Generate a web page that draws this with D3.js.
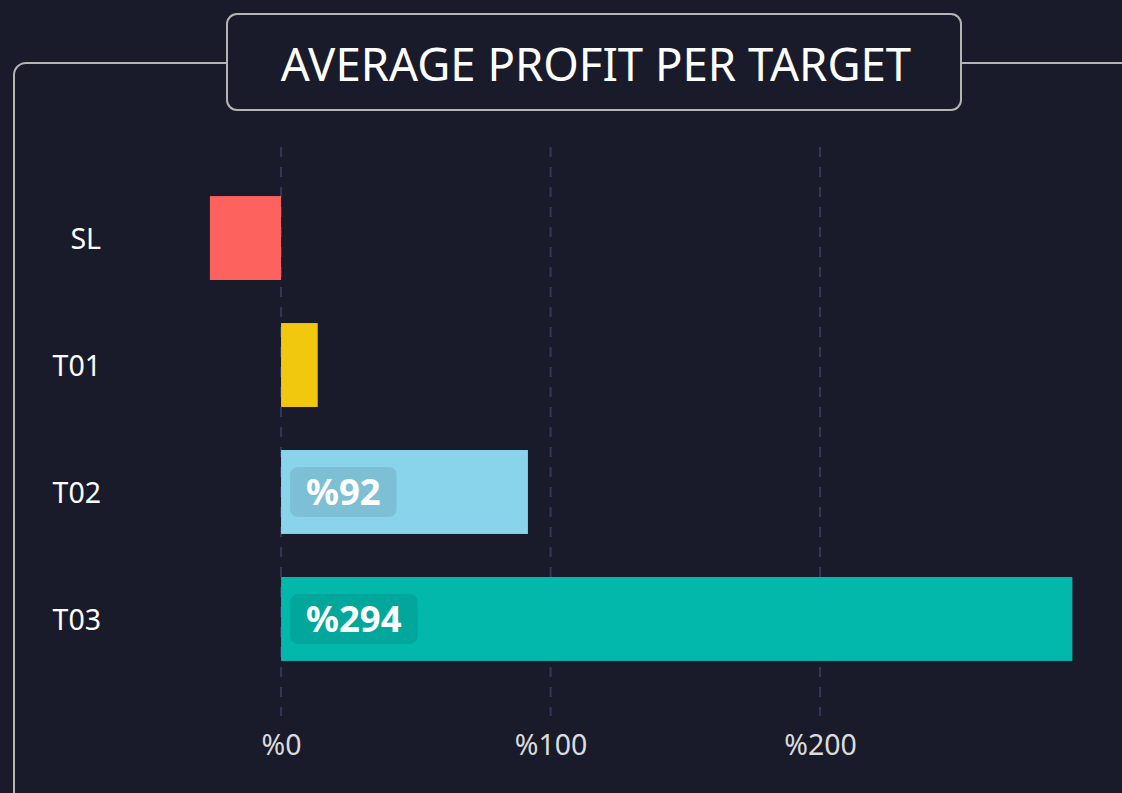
<!DOCTYPE html>
<html>
<head>
<meta charset="utf-8">
<script src="https://cdn.jsdelivr.net/npm/d3@7"></script>
<style>
  html, body { margin: 0; padding: 0; background: #191b2a; overflow: hidden; }
  svg { display: block; }
</style>
</head>
<body>
<div id="chart"></div>
<script>
// data
const categories = ["SL", "T01", "T02", "T03"];
const profits = [-26.4, 13.6, 91.6, 293.6];
const barColors = ["#fd625e", "#f2c80f", "#8ad4eb", "#01b8aa"];
const tickValues = [0, 100, 200];
const labelMin = 50; // only bars wide enough get a value badge
const title = "AVERAGE PROFIT PER TARGET";

const width = 1122, height = 793;
const font = "'Segoe UI', 'Noto Sans', 'Open Sans', sans-serif";

const svg = d3.select('#chart').append('svg')
	.attr('width', width)
	.attr('height', height);

// outer panel, runs off the right and bottom edges
svg.append('rect')
	.attr('x', 14).attr('y', 63)
	.attr('width', 1140).attr('height', 760)
	.attr('rx', 12)
	.attr('fill', 'none')
	.attr('stroke', '#b4b4b4')
	.attr('stroke-width', 2);

// title box
svg.append('rect')
	.attr('x', 227).attr('y', 14)
	.attr('width', 734).attr('height', 96)
	.attr('rx', 10)
	.attr('fill', '#191b2a')
	.attr('stroke', '#b4b4b4')
	.attr('stroke-width', 2);

svg.append('text')
	.attr('x', 596).attr('y', 81)
	.attr('text-anchor', 'middle')
	.style('font-family', font)
	.style('font-size', '45.5px')
	.style('fill', '#ffffff')
	.text(title);

// scales
const x = d3.scaleLinear()
	.domain([-30, 300])
	.range([200.2, 1089.6]);

const y = d3.scaleBand()
	.domain(categories)
	.range([174.5, 682.5])
	.paddingInner(0.339)
	.paddingOuter(0.17);

// dashed gridlines
svg.append('g')
	.selectAll('line')
	.data(tickValues)
	.join('line')
	.attr('x1', d => x(d)).attr('x2', d => x(d))
	.attr('y1', 147).attr('y2', 716)
	.attr('stroke', '#30385a')
	.attr('stroke-width', 2)
	.attr('stroke-dasharray', '10 10');

// x axis labels
const xAxis = d3.axisBottom(x)
	.tickValues(tickValues)
	.tickSize(0)
	.tickPadding(0)
	.tickFormat(d => '%' + d);

svg.append('g')
	.attr('transform', 'translate(0,735)')
	.call(xAxis)
	.call(g => g.select('.domain').remove())
	.selectAll('text')
	.style('font-family', font)
	.style('font-size', '28.5px')
	.style('fill', '#dcdcdc');

// category labels
svg.append('g')
	.selectAll('text')
	.data(categories)
	.join('text')
	.attr('x', 101)
	.attr('y', d => y(d) + y.bandwidth() / 2 + 1)
	.attr('dy', '0.36em')
	.attr('text-anchor', 'end')
	.style('font-family', font)
	.style('font-size', '28.5px')
	.style('fill', '#ffffff')
	.text(d => d);

// bars
const rows = categories.map((c, i) => ({cat: c, val: profits[i], color: barColors[i]}));

svg.append('g')
	.selectAll('rect')
	.data(rows)
	.join('rect')
	.attr('x', d => x(Math.min(0, d.val)))
	.attr('y', d => y(d.cat))
	.attr('width', d => Math.abs(x(d.val) - x(0)))
	.attr('height', y.bandwidth())
	.attr('fill', d => d.color);

// value badges
const badges = svg.append('g')
	.selectAll('g')
	.data(rows.filter(d => d.val > labelMin))
	.join('g')
	.attr('transform', d => `translate(${x(0) + 9},${y(d.cat) + y.bandwidth() / 2})`);

const badgeText = badges.append('text')
	.attr('x', 16)
	.attr('dy', '0.36em')
	.style('font-family', font)
	.style('font-size', '36.5px')
	.style('font-weight', 'bold')
	.style('fill', '#ffffff')
	.text(d => '%' + Math.round(d.val));

badges.insert('rect', 'text')
	.attr('x', 0)
	.attr('y', -25)
	.attr('height', 50)
	.attr('rx', 8)
	.attr('width', function() {
		const t = d3.select(this.parentNode).select('text').node();
		return t.getComputedTextLength() + 32;
	})
	.attr('fill', 'rgba(0,0,0,0.09)');
</script>
</body>
</html>
